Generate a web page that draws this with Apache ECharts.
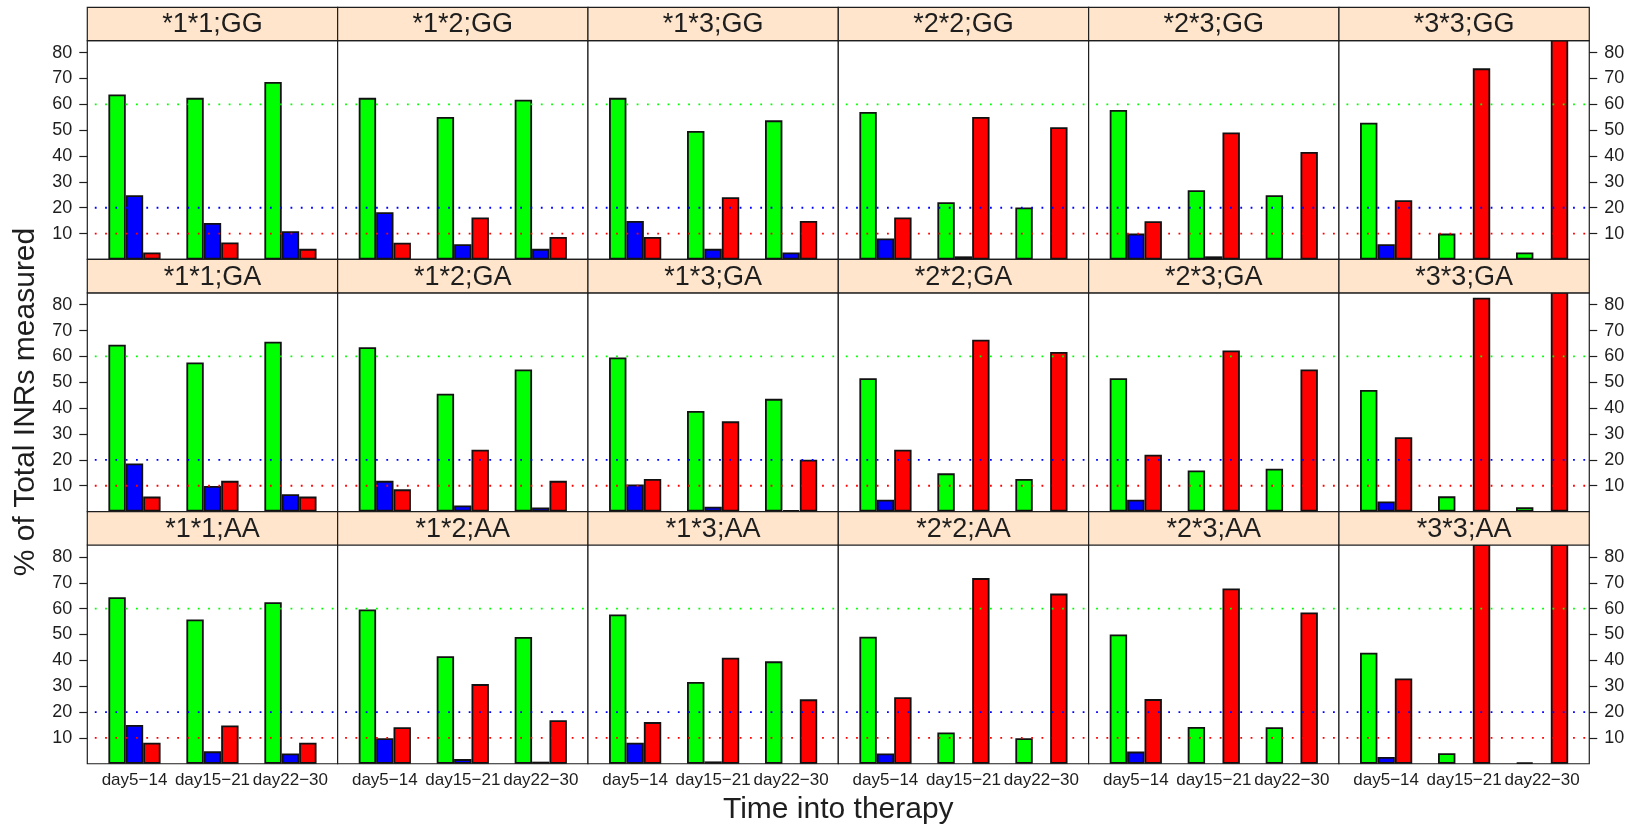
<!DOCTYPE html>
<html>
<head>
<meta charset="utf-8">
<script src="https://cdn.jsdelivr.net/npm/echarts@6/dist/echarts.min.js"></script>
<style>
  html, body { margin: 0; padding: 0; background: #ffffff; }
  #chart { width: 1633px; height: 830px; }
</style>
</head>
<body>
<div id="chart"></div>
<script>
// ---- data ---------------------------------------------------------------
const periods   = ['day5\u221214', 'day15\u221221', 'day22\u221230'];
const genotypes = ['*1*1', '*1*2', '*1*3', '*2*2', '*2*3', '*3*3'];
const alleles   = ['GG', 'GA', 'AA'];
const yTicks    = [10, 20, 30, 40, 50, 60, 70, 80];
const refLevels = [60, 20, 10];   // green, blue, red reference levels

// % of total INRs per genotype (rows of 3 periods), one array per bar colour and allele
const greenGG = [[63.8, 62.5, 68.6], [62.5, 55.1, 61.8], [62.5, 49.7, 53.8], [57.0, 22.1, 20.1], [57.8, 26.8, 24.8], [52.9, 10.0, 2.7]];
const blueGG  = [[24.8, 14.1, 10.9], [18.3, 5.9, 4.1], [14.9, 4.1, 2.7], [8.1, 1.2, 0], [10.0, 1.2, 0], [5.9, 0, 0]];
const redGG   = [[2.7, 6.6, 4.1], [6.5, 16.2, 8.7], [8.7, 24.1, 14.9], [16.2, 55.1, 51.1], [14.8, 49.1, 41.6], [22.9, 73.9, 90]];

const greenGA = [[64.5, 57.7, 65.7], [63.6, 45.6, 55.0], [59.6, 38.9, 43.6], [51.6, 14.8, 12.6], [51.6, 15.9, 16.6], [47.0, 5.9, 1.7]];
const blueGA  = [[18.6, 9.9, 6.7], [11.9, 2.4, 1.6], [10.5, 1.9, 0.5], [4.6, 0, 0], [4.6, 0, 0], [3.9, 0, 0]];
const redGA   = [[5.8, 11.9, 5.8], [8.6, 23.9, 11.9], [12.6, 34.9, 20.1], [23.9, 66.5, 61.7], [22.0, 62.3, 55.0], [28.8, 82.7, 92]];

const greenAA = [[64.4, 55.8, 62.5], [59.7, 41.6, 49.0], [57.7, 31.6, 39.6], [49.1, 12.1, 9.9], [50.0, 14.2, 14.1], [42.9, 4.1, 0.5]];
const blueAA  = [[15.0, 4.8, 4.0], [9.9, 1.8, 0.8], [8.1, 0.9, 0], [4.0, 0, 0], [4.7, 0, 0], [2.6, 0, 0]];
const redAA   = [[8.1, 14.8, 8.1], [14.1, 30.8, 16.8], [16.1, 41.0, 24.9], [25.7, 71.8, 65.8], [25.0, 67.8, 58.5], [33.0, 95, 95]];

// ---- layout & style -----------------------------------------------------
const rowSeries = {
  GG: [greenGG, blueGG, redGG],
  GA: [greenGA, blueGA, redGA],
  AA: [greenAA, blueAA, redAA]
};
const barColors = ['#00ff00', '#0000ff', '#ff0000'];
const FONT = "'Liberation Sans', Arial, Helvetica, sans-serif";
const INK = '#1e1e1e';

const PANEL_LEFT = 87.3, PANEL_W = 250.33;
const TOP = 7.3, STRIP_H = 33.4, ROW_H = 252.15;
const X_MIN = 0.395, X_MAX = 3.605;
const Y_MAX = 84.6;

const grids = [], xAxes = [], yAxes = [], series = [], graphics = [];

alleles.forEach((al, r) => {
  genotypes.forEach((g, c) => {
    const i = r * genotypes.length + c;
    const left = PANEL_LEFT + c * PANEL_W;
    const top = TOP + r * ROW_H;
    const sideAxis = (c === 0 || c === genotypes.length - 1);
    const bottomRow = (r === alleles.length - 1);

    grids.push({
      left: left, top: top + STRIP_H, width: PANEL_W, height: ROW_H - STRIP_H,
      show: true, backgroundColor: '#ffffff', borderColor: INK, borderWidth: 1.2,
      containLabel: false, outerBoundsMode: 'none'
    });

    // strip header
    graphics.push({
      type: 'rect', z: 20,
      shape: { x: left, y: top, width: PANEL_W, height: STRIP_H },
      style: { fill: '#ffe5cc', stroke: INK, lineWidth: 1.2 }
    });
    graphics.push({
      type: 'text', z: 21, x: left + PANEL_W / 2, y: top + STRIP_H / 2 + 1,
      style: { text: g + ';' + al, font: '27px ' + FONT, fill: INK, textAlign: 'center', textVerticalAlign: 'middle' }
    });

    xAxes.push({
      type: 'value', gridIndex: i, min: X_MIN, max: X_MAX,
      splitLine: { show: false }, axisLine: { show: false }, axisTick: { show: false },
      axisLabel: {
        show: bottomRow, customValues: [1, 2, 3], margin: 8,
        fontSize: 17, fontFamily: FONT, color: INK,
        formatter: v => periods[Math.round(v) - 1] || ''
      }
    });

    yAxes.push({
      type: 'value', gridIndex: i, min: 0, max: Y_MAX,
      position: c === genotypes.length - 1 ? 'right' : 'left',
      splitLine: { show: false }, axisLine: { show: false },
      axisTick: { show: sideAxis, customValues: yTicks, length: 8, inside: false, lineStyle: { color: INK, width: 1.2 } },
      axisLabel: { show: sideAxis, customValues: yTicks, margin: 15, fontSize: 18, fontFamily: FONT, color: INK }
    });

    rowSeries[al].forEach((arr, k) => {
      series.push({
        type: 'bar', xAxisIndex: i, yAxisIndex: i,
        // an empty share gets no outline so nothing is drawn for it
        data: arr[c].map((v, p) => (v > 0 ? [p + 1, v] : { value: [p + 1, v], itemStyle: { borderWidth: 0 } })),
        barWidth: 17.4, barGap: '0%', clip: true, silent: true, z: 2,
        itemStyle: { color: barColors[k], borderColor: '#111111', borderWidth: 1.8 }
      });
    });

    refLevels.forEach((lvl, k) => {
      series.push({
        type: 'line', xAxisIndex: i, yAxisIndex: i,
        data: [[X_MIN, lvl], [X_MAX, lvl]],
        symbol: 'none', silent: true, z: 4,
        lineStyle: { color: barColors[k], width: 1.8, type: [1.8, 8.5], dashOffset: 2.8 }
      });
    });
  });
});

// axis titles
graphics.push({
  type: 'text', z: 30, x: PANEL_LEFT + 3 * PANEL_W, y: 810,
  style: { text: 'Time into therapy', font: '30px ' + FONT, fill: INK, textAlign: 'center', textVerticalAlign: 'middle' }
});
graphics.push({
  type: 'text', z: 30, x: 26, y: 402, rotation: Math.PI / 2,
  style: { text: '% of Total INRs measured', font: '30px ' + FONT, fill: INK, textAlign: 'center', textVerticalAlign: 'middle' }
});

const chart = echarts.init(document.getElementById('chart'), null, { renderer: 'canvas' });
chart.setOption({
  animation: false,
  backgroundColor: '#ffffff',
  grid: grids,
  xAxis: xAxes,
  yAxis: yAxes,
  series: series,
  graphic: graphics
});
</script>
</body>
</html>
